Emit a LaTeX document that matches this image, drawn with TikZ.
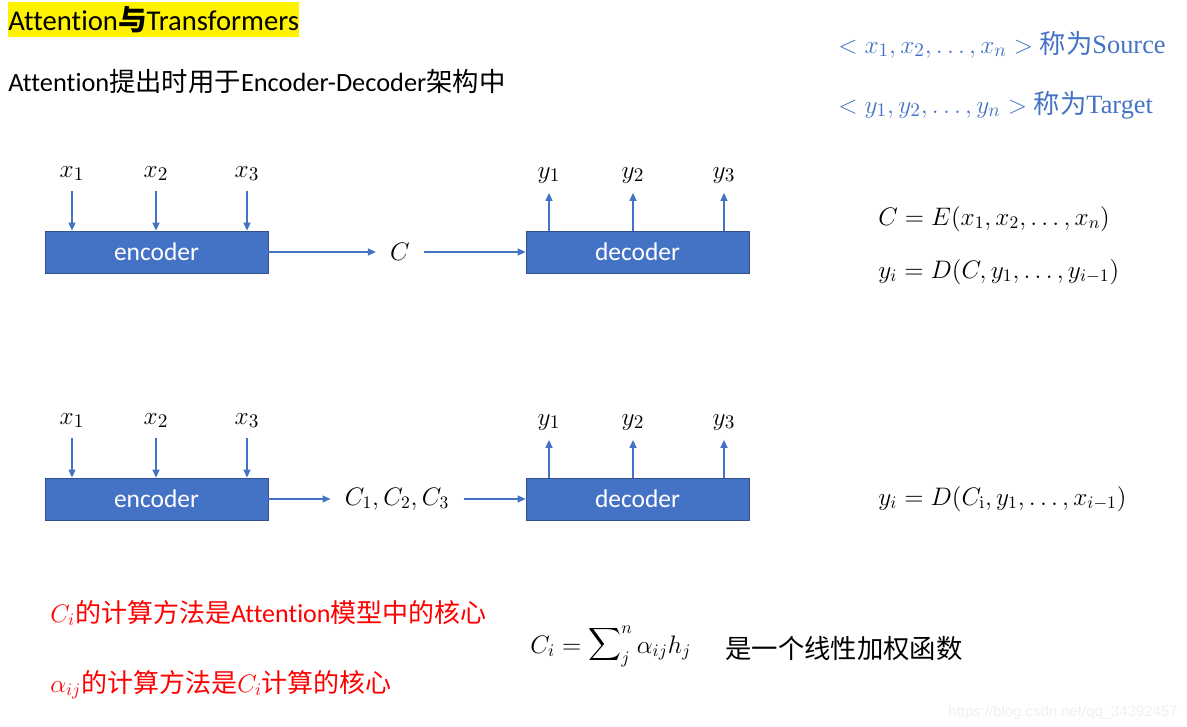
\documentclass[tikz,border=0pt]{standalone}
\usepackage[no-math]{fontspec}
\newfontfamily\calibri[Ligatures=NoCommon]{Carlito}
\newfontfamily\cjk{Noto Sans CJK SC}
\newfontfamily\tnr{Liberation Serif}
\newfontfamily\wmfont{Liberation Sans}
\usetikzlibrary{arrows.meta}
\definecolor{boxblue}{HTML}{4472C4}
\definecolor{boxedge}{HTML}{2F528F}
\newcommand{\fsz}[1]{\fontsize{#1pt}{#1pt}\selectfont}

\begin{document}
\begin{tikzpicture}[x=0.02cm,y=-0.02cm,
    blk/.style={draw=boxedge,fill=boxblue,line width=0.5pt,minimum width=4.46cm,minimum height=0.84cm,text=white,font=\fsz{14.5}\calibri},
    lbl/.style={font=\fsz{15},inner xsep=1pt,inner ysep=5.5pt,anchor=base},
    mid/.style={font=\fsz{14.5},inner xsep=8pt},
    arr/.style={draw=boxblue,line width=0.6pt,-{Triangle[length=4.5pt,width=4pt]}},
    eq/.style={font=\fsz{14.5},anchor=base west,inner sep=0pt},
    txt/.style={anchor=base west,inner sep=0pt}]
    \useasboundingbox (0,0) rectangle (1187,727);

    \node[fill=yellow,anchor=north west,inner xsep=0pt,inner ysep=0pt,minimum height=0.7cm,font=\fsz{16.3}\calibri] (title) at (8,2) {Attention{\cjk\bfseries 与}Transformers};
    \node[txt,font=\fsz{15}\calibri] (sub) at (8,91) {Attention{\cjk 提出时用于}Encoder-Decoder{\cjk 架构中}};

    \node[txt,text=boxblue,font=\fsz{15}\tnr] (src) at (838,53) {$< x_1, x_2, \dots, x_n >$ {\cjk 称为}Source};
    \node[txt,text=boxblue,font=\fsz{15}\tnr] (tgt) at (838,113) {$< y_1, y_2, \dots, y_n >$ {\cjk 称为}Target};

    \node[blk] (enc1) at (156.5,252) {encoder};
    \node[blk] (dec1) at (637.5,252) {decoder};
    \node[mid] (c1) at (400,252) {$C$};
    \foreach \i/\x in {1/72,2/156,3/247} \node[lbl] (xa\i) at (\x,177) {$x_\i$};
    \foreach \i/\x in {1/549,2/633,3/724} \node[lbl] (ya\i) at (\x,178) {$y_\i$};
    \foreach \i in {1,2,3} {
        \draw[arr] (xa\i) -- (xa\i |- enc1.north);
        \draw[arr] (dec1.north -| ya\i) -- (ya\i);
    }
    \draw[arr] (enc1) -- (c1);
    \draw[arr] (c1) -- (dec1);

    \node[blk] (enc2) at (156.5,499) {encoder};
    \node[blk] (dec2) at (637.5,499) {decoder};
    \node[mid] (c2) at (397,499) {$C_1, C_2, C_3$};
    \foreach \i/\x in {1/72,2/156,3/247} \node[lbl] (xb\i) at (\x,424) {$x_\i$};
    \foreach \i/\x in {1/549,2/633,3/724} \node[lbl] (yb\i) at (\x,425) {$y_\i$};
    \foreach \i in {1,2,3} {
        \draw[arr] (xb\i) -- (xb\i |- enc2.north);
        \draw[arr] (dec2.north -| yb\i) -- (yb\i);
    }
    \draw[arr] (enc2) -- (c2);
    \draw[arr] (c2) -- (dec2);

    \node[eq] (ce) at (878,225) {$C = E(x_1, x_2, \dots, x_n)$};
    \node[eq] (yd) at (878,278) {$y_i = D(C, y_1, \dots, y_{i-1})$};
    \node[eq] (ydb) at (878,505) {$y_i = D(C_{\mathrm{i}}, y_1, \dots, x_{i-1})$};

    \node[txt,text=red,font=\fsz{14.8}\calibri] (nota) at (50,622) {$C_i${\cjk 的计算方法是}Attention{\cjk 模型中的核心}};
    \node[txt,text=red,font=\fsz{14.8}\calibri] (notb) at (50,692) {$\alpha_{ij}${\cjk 的计算方法是}$C_i${\cjk 计算的核心}};

    \node[eq] (ci) at (530,653) {$C_i = \mathop{\scalebox{1.3}{$\displaystyle\sum$}}\nolimits_j^n \alpha_{ij} h_j$};
    \node[txt,font=\fsz{15}\cjk] (lin) at (725,658) {是一个线性加权函数};

    \node[anchor=base east,inner sep=0pt,text=gray!12,font=\fsz{8.5}\wmfont] (wm) at (1178,716) {https://blog.csdn.net/qq\_34392457};
\end{tikzpicture}
\end{document}
